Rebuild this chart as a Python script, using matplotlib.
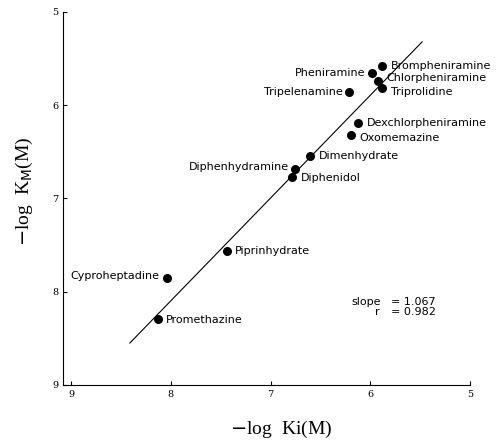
import matplotlib
matplotlib.use('Agg')
import matplotlib.pyplot as plt

# -log Ki(M) vs -log KM(M)
drugs = ['Brompheniramine', 'Pheniramine', 'Chlorpheniramine', 'Triprolidine',
         'Tripelenamine', 'Dexchlorpheniramine', 'Oxomemazine', 'Dimenhydrate',
         'Diphenhydramine', 'Diphenidol', 'Piprinhydrate', 'Cyproheptadine',
         'Promethazine']
log_ki = [5.88, 5.98, 5.92, 5.88, 6.21, 6.12, 6.19, 6.60, 6.75, 6.78, 7.44, 8.04, 8.13]
log_km = [5.58, 5.65, 5.74, 5.81, 5.86, 6.19, 6.32, 6.54, 6.68, 6.77, 7.56, 7.85, 8.29]
label_side = ['r', 'l', 'r', 'r', 'l', 'r', 'r', 'r', 'l', 'r', 'r', 'l', 'r']
label_dy = [0, 0, 2, -3, 0, 0, -2, 0, 1, -1, 0, 1, -1]

fit_x = [8.41, 5.48]
fit_y = [8.55, 5.32]

fig = plt.figure(figsize=(4.97, 4.41), dpi=100)
ax = fig.add_axes([0.1268, 0.127, 0.8189, 0.8458])

ax.plot(fit_x, fit_y, color='black', lw=0.8)
ax.scatter(log_ki, log_km, s=30, color='black', zorder=3)

for name, x, y, side, dy in zip(drugs, log_ki, log_km, label_side, label_dy):
    if side == 'r':
        ax.annotate(name, (x, y), xytext=(6, dy), textcoords='offset points',
                    ha='left', va='center', fontsize=8)
    else:
        ax.annotate(name, (x, y), xytext=(-5, dy), textcoords='offset points',
                    ha='right', va='center', fontsize=8)

# fit statistics
ax.text(6.19, 8.11, 'slope', fontsize=8, ha='left', va='center')
ax.text(5.79, 8.11, '= 1.067', fontsize=8, ha='left', va='center')
ax.text(5.95, 8.22, 'r', fontsize=8, ha='left', va='center')
ax.text(5.79, 8.22, '= 0.982', fontsize=8, ha='left', va='center')

ax.set_xlim(9.08, 5)
ax.set_ylim(9, 5)
ax.set_xticks([9, 8, 7, 6, 5])
ax.set_yticks([5, 6, 7, 8, 9])
ax.tick_params(direction='in', length=3, width=0.8, labelsize=7)
for lab in ax.get_xticklabels() + ax.get_yticklabels():
    lab.set_family('DejaVu Serif')
ax.spines['top'].set_visible(False)
ax.spines['right'].set_visible(False)

ax.set_xlabel(r'$-$log  Ki(M)', fontsize=14, family='Liberation Serif')
ax.set_ylabel(r'$-$log  K$_\mathrm{M}$(M)', fontsize=14, family='Liberation Serif')
ax.xaxis.set_label_coords(0.535, -0.09)
ax.yaxis.set_label_coords(-0.07, 0.52)

fig.savefig('out.png', dpi=100)
